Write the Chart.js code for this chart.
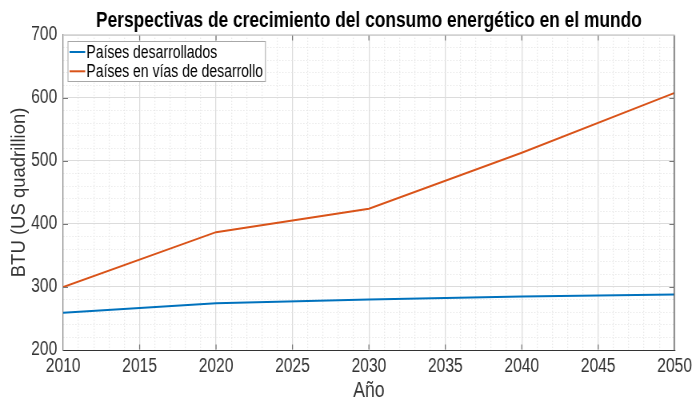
<!DOCTYPE html>
<html>
<head>
<meta charset="utf-8">
<script src="https://cdn.jsdelivr.net/npm/chart.js@4/dist/chart.umd.min.js"></script>
<style>
  html, body { margin: 0; padding: 0; background: #fff; overflow: hidden; }
  #frame { width: 696px; height: 399px; overflow: hidden; position: relative; }
  /* drawn wide, then squeezed horizontally for the narrow-type look */
  #wrap { width: 870px; height: 399px; position: absolute; left: 0; top: 0;
          transform: scaleX(0.8); transform-origin: 0 0; }
</style>
</head>
<body>
<div id="frame"><div id="wrap"><canvas id="lineChart"></canvas></div></div>
<script>
const years = [2010, 2020, 2030, 2040, 2050];
const desarrollados = [259, 274, 280, 285, 288];
const enDesarrollo = [300, 387, 424, 513, 608];
const seriesNames = ['Países desarrollados', 'Países en vías de desarrollo'];
const yTitle = 'BTU (US quadrillion)';

const FONT = "'Liberation Sans', Arial, Helvetica, sans-serif";
const AXIS = '#333333';
const MAJOR = '#dcdcdc';
const MINOR = '#e4e4e4';
const SX = 1.25; // horizontal widths compensate the 0.8 squeeze

// top/right box edges, inward tick marks, y title and the legend
const matlabAxes = {
  id: 'matlabAxes',
  afterDraw(chart) {
    const { ctx, chartArea: a, scales } = chart;
    const L = a.left, R = a.right - 0.6;
    const T = Math.round(a.top) + 0.5, B = Math.round(a.bottom) - 0.5;
    ctx.save();
    ctx.lineWidth = 1;
    ctx.strokeStyle = '#d2d2d2';
    ctx.beginPath(); ctx.moveTo(L, T); ctx.lineTo(R, T); ctx.stroke();
    ctx.lineWidth = SX;
    ctx.strokeStyle = '#555';
    ctx.beginPath(); ctx.moveTo(R, T); ctx.lineTo(R, B + 1); ctx.stroke();

    ctx.strokeStyle = '#777';
    ctx.beginPath();
    for (let v = 2015; v < 2050; v += 5) {
      const x = scales.x.getPixelForValue(v);
      ctx.moveTo(x, B); ctx.lineTo(x, B - 5);
      ctx.moveTo(x, T); ctx.lineTo(x, T + 5);
    }
    ctx.stroke();
    ctx.lineWidth = 1;
    ctx.beginPath();
    for (let v = 300; v < 700; v += 100) {
      const y = Math.round(scales.y.getPixelForValue(v)) + 0.5;
      ctx.moveTo(L, y); ctx.lineTo(L + 6, y);
      ctx.moveTo(R, y); ctx.lineTo(R - 6, y);
    }
    ctx.stroke();

    // y axis title, kept at normal proportions
    ctx.save();
    ctx.translate(25, (a.top + a.bottom) / 2);
    ctx.scale(SX, 1);
    ctx.rotate(-Math.PI / 2);
    ctx.font = '18.5px ' + FONT;
    ctx.fillStyle = AXIS;
    ctx.textAlign = 'center';
    ctx.textBaseline = 'middle';
    ctx.fillText(yTitle, 0, 0);
    ctx.restore();

    // legend
    ctx.font = '17.5px ' + FONT;
    const ds = chart.data.datasets;
    const textW = Math.max(...ds.map(d => ctx.measureText(d.label).width));
    const bx = a.left + 6, by = Math.round(a.top + 6) + 0.5;
    const bw = 23 + textW + 3, bh = 40;
    ctx.fillStyle = '#fff';
    ctx.fillRect(bx, by, bw, bh);
    ctx.strokeStyle = '#a8a8a8';
    ctx.lineWidth = 1;
    ctx.strokeRect(bx, by, bw, bh);
    ds.forEach((d, i) => {
      const cy = by + 10.5 + i * 19.3;
      ctx.strokeStyle = d.borderColor;
      ctx.lineWidth = 2;
      ctx.beginPath();
      ctx.moveTo(bx + 2, cy); ctx.lineTo(bx + 21.5, cy);
      ctx.stroke();
      ctx.fillStyle = '#000';
      ctx.textBaseline = 'middle';
      ctx.fillText(d.label, bx + 23, cy + 1);
    });
    ctx.restore();
  }
};

new Chart(document.getElementById('lineChart'), {
  type: 'line',
  data: {
    datasets: [
      {
        label: seriesNames[0],
        data: years.map((y, i) => ({ x: y, y: desarrollados[i] })),
        borderColor: '#0072BD', borderWidth: 2, pointRadius: 0, tension: 0,
      },
      {
        label: seriesNames[1],
        data: years.map((y, i) => ({ x: y, y: enDesarrollo[i] })),
        borderColor: '#D95319', borderWidth: 2, pointRadius: 0, tension: 0,
      }
    ]
  },
  options: {
    responsive: true,
    maintainAspectRatio: false,
    animation: false,
    layout: { padding: { left: 0, right: 24, top: 0, bottom: 0 } },
    plugins: {
      legend: { display: false },
      tooltip: { enabled: false },
      title: {
        display: true,
        fullSize: false,
        text: 'Perspectivas de crecimiento del consumo energético en el mundo',
        color: '#000',
        font: { family: FONT, size: 21.7, weight: 'bold', lineHeight: 1.1 },
        padding: { top: 9, bottom: 2 }
      }
    },
    scales: {
      x: {
        type: 'linear', min: 2010, max: 2050,
        afterFit: s => { s.height = 49; },
        ticks: {
          stepSize: 1, autoSkip: false, maxRotation: 0, padding: 5,
          color: AXIS, font: { family: FONT, size: 19.5 },
          callback: v => (v % 5 === 0 ? String(v) : '')
        },
        grid: {
          drawTicks: false,
          lineWidth: SX,
          color: c => (c.tick && c.tick.value % 5 === 0 ? MAJOR : MINOR)
        },
        border: {
          color: AXIS, width: 1,
          dash: c => (c.tick && c.tick.value % 5 !== 0 ? [1, 2] : [])
        },
        title: {
          display: true, text: 'Año', color: AXIS,
          font: { family: FONT, size: 22, lineHeight: 0.7 }, padding: { top: 0, bottom: 0 }
        }
      },
      y: {
        min: 200, max: 700,
        afterFit: s => { s.width = 79; },
        ticks: {
          stepSize: 20, autoSkip: false, padding: 7.5,
          color: AXIS, font: { family: FONT, size: 19.5 },
          callback: v => (v % 100 === 0 ? String(v) : '')
        },
        grid: {
          drawTicks: false,
          color: c => (c.tick && c.tick.value % 100 === 0 ? MAJOR : MINOR)
        },
        border: {
          color: '#8c8c8c', width: SX,
          dash: c => (c.tick && c.tick.value % 100 !== 0 ? [1.25, 2.5] : [])
        },
        title: { display: false }
      }
    }
  },
  plugins: [matlabAxes]
});
</script>
</body>
</html>
